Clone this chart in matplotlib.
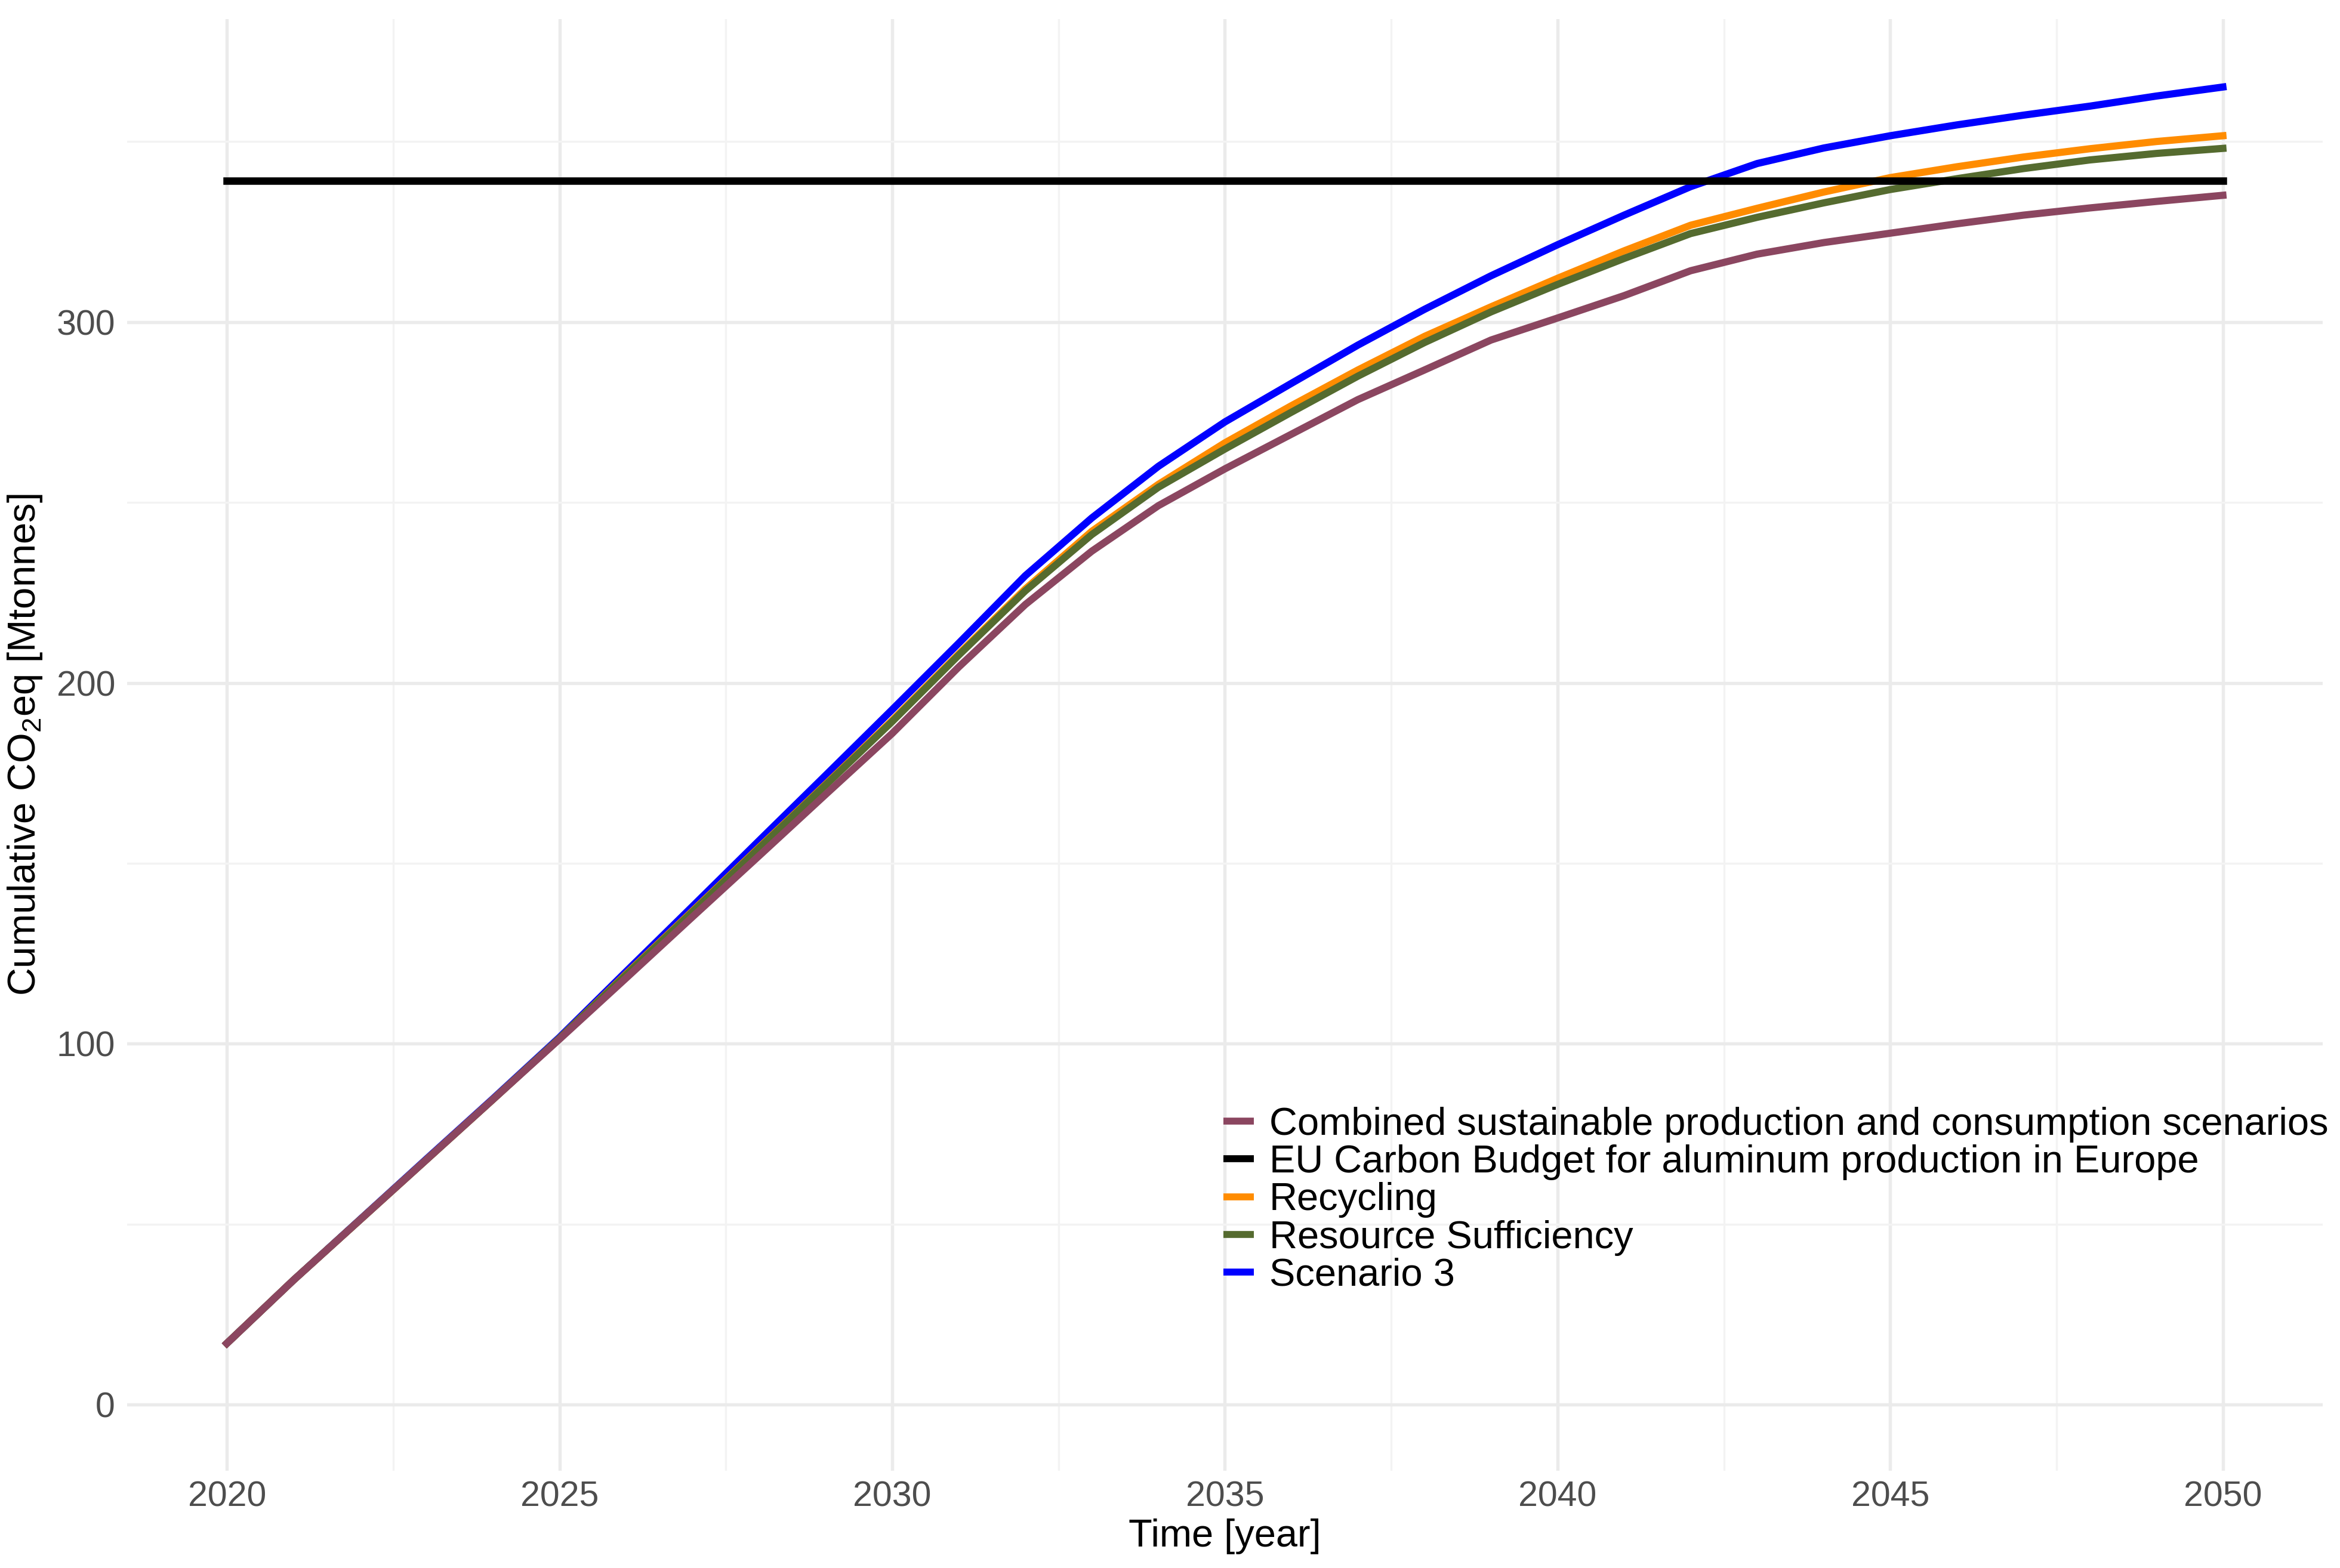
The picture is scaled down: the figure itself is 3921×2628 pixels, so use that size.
import matplotlib
matplotlib.use("Agg")
import matplotlib.pyplot as plt
from matplotlib.lines import Line2D

plt.rcParams['font.family'] = ['Liberation Sans', 'DejaVu Sans']
plt.rcParams['mathtext.default'] = 'regular'

# Données (Mt CO2eq cumulées)
years = list(range(2020, 2051))

combined = [17.0, 34.5, 51.2, 67.9, 84.6, 101.3, 118.2, 135.2, 152.1, 169.1,
            186.0, 204.4, 221.7, 236.5, 249.1, 259.3, 268.9, 278.5, 286.7, 295.0,
            301.1, 307.3, 314.2, 318.8, 322.0, 324.6, 327.2, 329.6, 331.6, 333.4,
            335.1]
recycling = [17.0, 34.5, 51.2, 67.9, 84.6, 101.5, 119.3, 136.8, 154.4, 171.9,
             189.6, 208.0, 226.0, 242.0, 255.0, 266.5, 276.8, 286.7, 296.0, 304.2,
             312.1, 319.7, 326.8, 331.5, 336.0, 340.0, 343.0, 345.7, 348.0, 350.0,
             351.6]
sufficiency = [17.0, 34.5, 51.2, 67.9, 84.6, 101.5, 119.1, 136.6, 154.2, 171.7,
               189.3, 207.7, 225.5, 241.1, 254.2, 264.8, 275.0, 285.0, 294.3, 302.8,
               310.4, 317.6, 324.5, 329.0, 333.0, 336.7, 339.7, 342.5, 344.9, 346.7,
               348.1]
scenario3 = [17.0, 34.5, 51.3, 68.1, 84.8, 101.8, 120.0, 138.1, 156.3, 174.4,
             192.6, 211.0, 229.7, 245.7, 260.0, 272.3, 283.0, 293.6, 303.5, 312.8,
             321.4, 329.6, 337.5, 343.9, 348.2, 351.6, 354.6, 357.3, 359.8, 362.6,
             365.1]
budget = [339.2] * len(years)

labels = ["Combined sustainable production and consumption scenarios",
          "EU Carbon Budget for aluminum production in Europe",
          "Recycling",
          "Resource Sufficiency",
          "Scenario 3"]
colors = ["#8B4660", "black", "#FF8C00", "#556B2F", "#0000FF"]

fig = plt.figure(figsize=(3921 / 300, 2628 / 300), dpi=300)
ax = fig.add_axes([0.0543, 0.062, 0.9383, 0.926])

lw = 2.9
ax.plot(years, scenario3, color=colors[4], lw=lw, zorder=3)
ax.plot(years, recycling, color=colors[2], lw=lw, zorder=4)
ax.plot(years, sufficiency, color=colors[3], lw=lw, zorder=5)
ax.plot(years, combined, color=colors[0], lw=lw, zorder=6)
ax.plot(years, budget, color=colors[1], lw=3.0, zorder=7)

ax.set_xlim(2018.5, 2051.5)
ax.set_ylim(-18.3, 384)
ax.set_xticks(range(2020, 2051, 5))
ax.set_xticks([2022.5 + 5 * i for i in range(6)], minor=True)
ax.set_yticks([0, 100, 200, 300])
ax.set_yticks([50, 150, 250, 350], minor=True)

ax.grid(which='major', color='#EBEBEB', lw=1.3)
ax.grid(which='minor', color='#F3F3F3', lw=0.8)
ax.set_axisbelow(True)
for s in ax.spines.values():
    s.set_visible(False)
ax.tick_params(which='both', length=0, labelsize=14.2, labelcolor='#4D4D4D')
ax.tick_params(axis='x', pad=4)
ax.tick_params(axis='y', pad=4.8)

ax.set_xlabel("Time [year]", fontsize=15.6)
ax.xaxis.set_label_coords(0.5, -0.033)
ax.set_ylabel("Cumulative CO$_2$eq [Mtonnes]", fontsize=15.6, va='center')
ax.yaxis.set_label_coords(-0.0465, 0.5)

handles = [Line2D([0], [0], color=c, lw=2.8, solid_capstyle='butt') for c in colors]
ax.legend(handles, labels, loc='upper left', bbox_to_anchor=(0.4994, 0.2507),
          frameon=False, fontsize=15.6, handlelength=0.78, handletextpad=0.4,
          labelspacing=0.05, borderpad=0, borderaxespad=0)

fig.savefig("out.png", dpi=300)
